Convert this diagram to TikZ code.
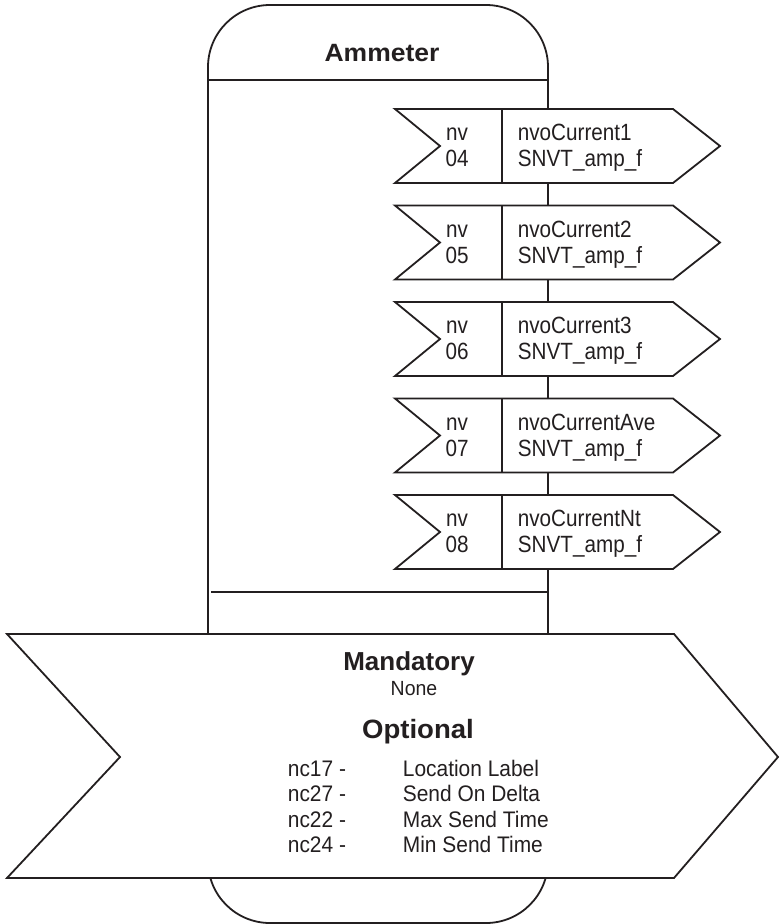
\documentclass[tikz,border=0pt]{standalone}
\usepackage{fontspec}
\setmainfont{Liberation Sans}
\newfontfamily\nvfont[FakeStretch=0.88]{Liberation Sans}
\newfontfamily\listfont[FakeStretch=0.93]{Liberation Sans}
\newfontfamily\nonefont[FakeStretch=0.95]{Liberation Sans}
\newfontfamily\titlefont[FakeStretch=1.06]{Liberation Sans}
\newfontfamily\optfont[FakeStretch=1.04]{Liberation Sans}
\definecolor{ink}{HTML}{231F20}
\begin{document}
\begin{tikzpicture}[x=1pt,y=-1pt,line width=1.8pt,line join=miter,
  shapeline/.style={draw=ink},
  nvtext/.style={inner sep=0pt,text=ink,font=\nvfont\fontsize{23.5}{28}\selectfont},
  headtext/.style={inner sep=0pt,text=ink,anchor=base},
  listtext/.style={inner sep=0pt,text=ink,anchor=base west,font=\listfont\fontsize{22.5}{27}\selectfont}]
\useasboundingbox (0,0) rectangle (780,924);
% main body
\draw[shapeline,rounded corners=62pt] (208,5) rectangle (548,923);
\draw[shapeline] (208,80) -- (548,80);
\draw[shapeline] (211,592) -- (548,592);
\node[headtext,font=\titlefont\fontsize{25}{30}\selectfont\bfseries] (title) at (382,61) {Ammeter};
% network variable arrows
\foreach \t/\n/\vname [count=\i] in {109/04/nvoCurrent1, 205.5/05/nvoCurrent2, 302/06/nvoCurrent3, 398.5/07/nvoCurrentAve, 495/08/nvoCurrentNt} {
  \draw[shapeline,fill=white] (395,\t) -- (673,\t) -- (720,\t+37) -- (673,\t+74) -- (395,\t+74) -- (440,\t+37) -- cycle;
  \draw[shapeline] (502,\t) -- (502,\t+74);
  \node[nvtext,anchor=base] (nv\i) at (457,\t+31.5) {nv};
  \node[nvtext,anchor=base] (num\i) at (457,\t+57.5) {\n};
  \node[nvtext,anchor=base west] (name\i) at (517,\t+31.5) {\vname};
  \node[nvtext,anchor=base west] (type\i) at (517,\t+57.5) {SNVT\_amp\_f};
}
% configuration arrow
\draw[shapeline,fill=white] (7,634) -- (674,634) -- (778,757) -- (674,878) -- (7,878) -- (120,757) -- cycle;
\node[headtext,font=\fontsize{26}{31}\selectfont\bfseries] (mand) at (409,670) {Mandatory};
\node[headtext,font=\nonefont\fontsize{20.5}{24}\selectfont] (none) at (414,695) {None};
\node[headtext,font=\optfont\fontsize{26.5}{31}\selectfont\bfseries] (opt) at (418,738) {Optional};
\foreach \c/\d [count=\i from 0] in {nc17/Location Label, nc27/Send On Delta, nc22/Max Send Time, nc24/Min Send Time} {
  \node[listtext] (nc\i) at (287,776.5+25.3*\i) {\c\ -};
  \node[listtext] (desc\i) at (402,776.5+25.3*\i) {\d};
}
\end{tikzpicture}
\end{document}
